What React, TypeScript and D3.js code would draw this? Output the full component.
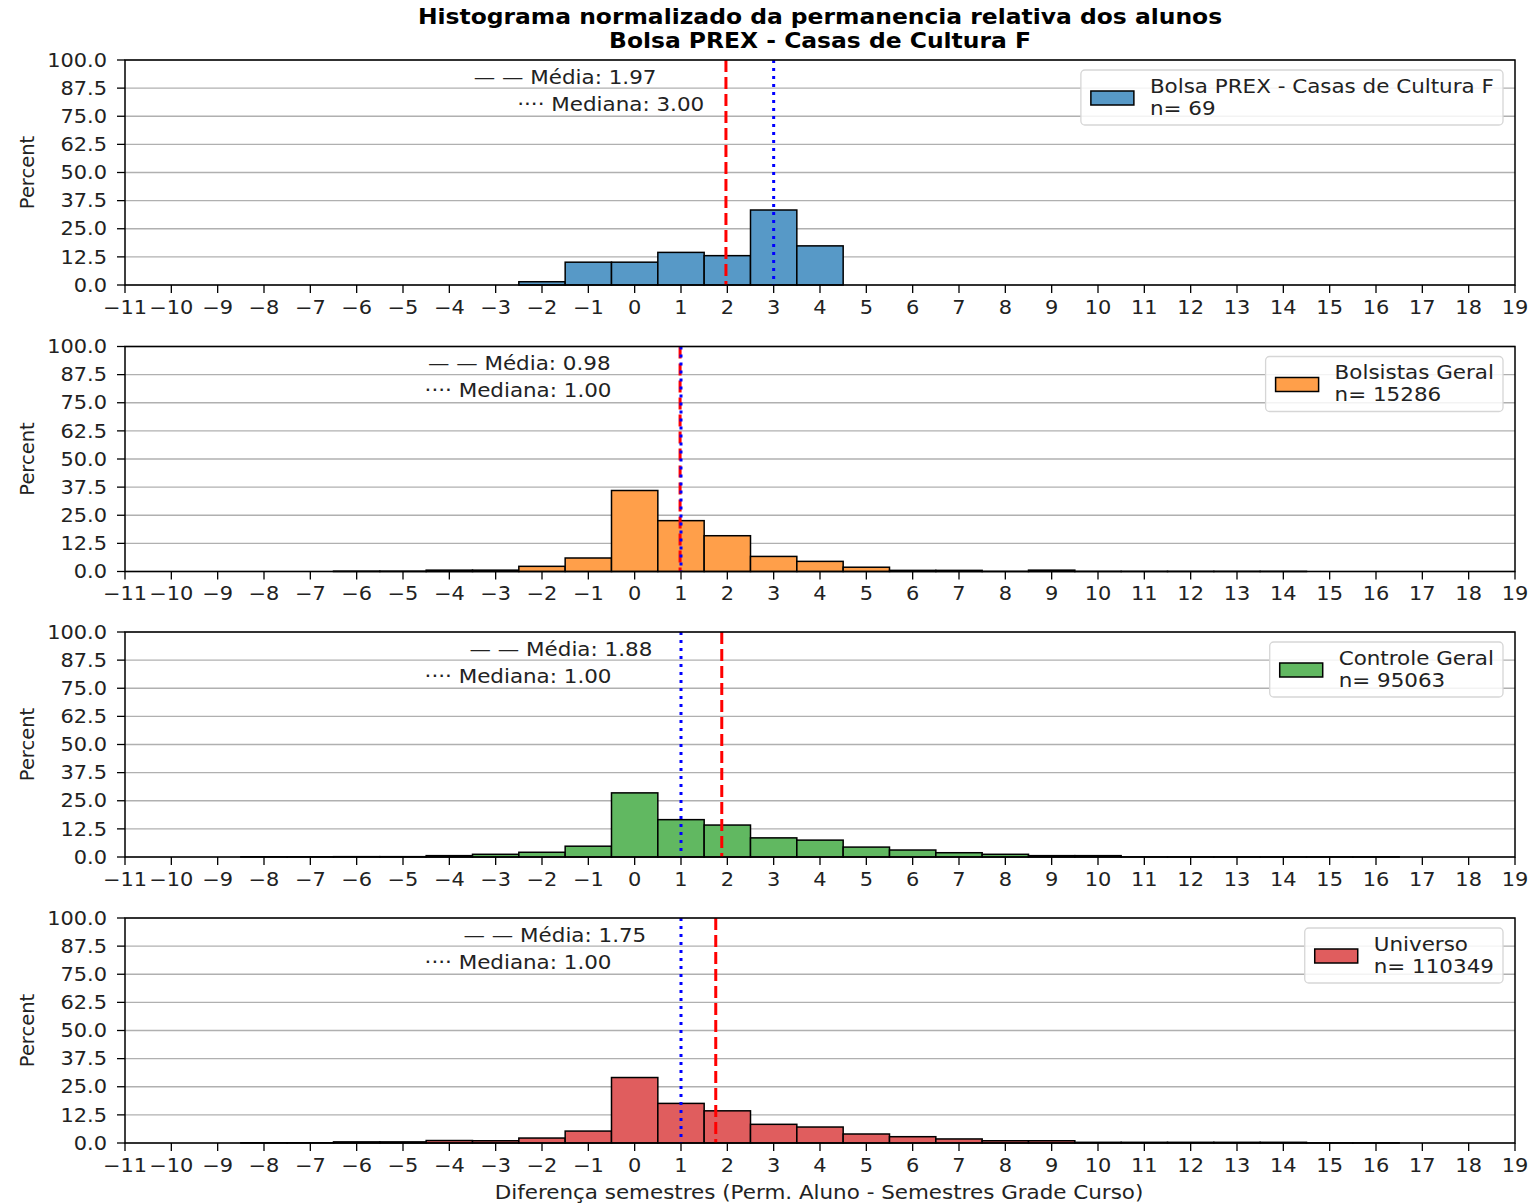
import React from "react";
import * as d3 from "d3";

const titleLines = ["Histograma normalizado da permanencia relativa dos alunos", "Bolsa PREX - Casas de Cultura F"];
const xLabel = "Diferença semestres (Perm. Aluno - Semestres Grade Curso)";
const yLabel = "Percent";
const yTicks = [0, 12.5, 25, 37.5, 50, 62.5, 75, 87.5, 100];
const xTicks = d3.range(-11, 20);

const seriesNames = ["Bolsa PREX - Casas de Cultura F", "Bolsistas Geral", "Controle Geral", "Universo"];
const seriesN = [69, 15286, 95063, 110349];
const seriesColors = ["#5799c7", "#ff9f4a", "#61b861", "#e05d5e"];
const means = [1.97, 0.98, 1.88, 1.75];
const medians = [3.0, 1.0, 1.0, 1.0];

const prexBins = [-2, -1, 0, 1, 2, 3, 4];
const prexPct = [1.45, 10.14, 10.14, 14.49, 13.04, 33.33, 17.39];

const bolsBins = [-6, -5, -4, -3, -2, -1, 0, 1, 2, 3, 4, 5, 6, 7, 8, 9, 10, 11, 12, 13, 14];
const bolsPct = [0.15, 0.15, 0.6, 0.6, 2.3, 6.0, 36.0, 22.6, 15.9, 6.7, 4.5, 1.9, 0.5, 0.5, 0.05, 0.6, 0.05, 0.05, 0.05, 0.05, 0.05];

const ctrlBins = [-8, -7, -6, -5, -4, -3, -2, -1, 0, 1, 2, 3, 4, 5, 6, 7, 8, 9, 10, 11, 12, 13, 14, 15, 16];
const ctrlPct = [0.1, 0.1, 0.15, 0.15, 0.6, 1.2, 2.1, 4.8, 28.5, 16.6, 14.2, 8.5, 7.5, 4.4, 3.1, 1.9, 1.2, 0.6, 0.6, 0.05, 0.05, 0.05, 0.05, 0.05, 0.05];

const univBins = [-8, -7, -6, -5, -4, -3, -2, -1, 0, 1, 2, 3, 4, 5, 6, 7, 8, 9, 10, 11, 12, 13, 14, 15, 16];
const univPct = [0.1, 0.1, 0.5, 0.5, 1.1, 1.0, 2.2, 5.3, 29.1, 17.6, 14.3, 8.3, 7.1, 4.0, 2.8, 1.8, 1.0, 1.0, 0.3, 0.3, 0.3, 0.3, 0.3, 0.05, 0.05];

const allBins = [prexBins, bolsBins, ctrlBins, univBins];
const allPct = [prexPct, bolsPct, ctrlPct, univPct];

const W = 1532;
const H = 1203;
const left = 125;
const right = 1515;
const panelTops = [60, 346.5, 632, 918];
const panelH = 225;
const FONT = "DejaVu Sans, Verdana, sans-serif";
const fs = 19.5;
const tfs = 19;
const SX = 1.1;

let measureCtx: CanvasRenderingContext2D | null = null;
function textWidth(t: string, size: number) {
  if (!measureCtx) {
    const c = document.createElement("canvas");
    measureCtx = c.getContext("2d");
  }
  if (!measureCtx) return t.length * size * 0.6;
  measureCtx.font = `${size}px "DejaVu Sans"`;
  return measureCtx.measureText(t).width;
}

function T({
  x,
  y,
  anchor = "start",
  size = fs,
  weight = "normal",
  fill = "#222",
  children,
}: {
  x: number;
  y: number;
  anchor?: string;
  size?: number;
  weight?: string;
  fill?: string;
  children: React.ReactNode;
}) {
  return (
    <text
      transform={`translate(${x},${y}) scale(${SX},1)`}
      dy="0.35em"
      textAnchor={anchor}
      fontSize={size}
      fontWeight={weight}
      fontFamily={FONT}
      fill={fill}
    >
      {children}
    </text>
  );
}

function Panel({ idx }: { idx: number }) {
  const top = panelTops[idx];
  const bottom = top + panelH;
  const x = d3.scaleLinear().domain([-11, 19]).range([left, right]);
  const y = d3.scaleLinear().domain([0, 100]).range([bottom, top]);
  const bins = allBins[idx];
  const pct = allPct[idx];
  const color = seriesColors[idx];
  const mean = means[idx];
  const med = medians[idx];
  const l1 = seriesNames[idx];
  const l2 = `n= ${seriesN[idx]}`;
  const legW = Math.max(textWidth(l1, fs), textWidth(l2, fs)) * SX + 78;
  const legR = right - 12;
  const legL = legR - legW;
  const legT = top + 10;
  const legH = 55;
  const fmt = (v: number) => (v < 0 ? "\u2212" + Math.abs(v) : String(v));
  return (
    <g>
      {yTicks.map((t) => (
        <line key={"g" + t} x1={left} x2={right} y1={y(t)} y2={y(t)} stroke="#b0b0b0" strokeWidth={1.3} />
      ))}
      {bins.map((b, i) => (
        <rect
          key={"b" + b}
          x={x(b - 0.5)}
          y={y(pct[i])}
          width={x(b + 0.5) - x(b - 0.5)}
          height={y(0) - y(pct[i])}
          fill={color}
          stroke="#000"
          strokeWidth={1.5}
        />
      ))}
      <line x1={x(mean)} x2={x(mean)} y1={top} y2={bottom} stroke="#ff0000" strokeWidth={3} strokeDasharray="12,5" />
      <line x1={x(med)} x2={x(med)} y1={top} y2={bottom} stroke="#0000ff" strokeWidth={3} strokeDasharray="3,5" />
      <rect x={left} y={top} width={right - left} height={panelH} fill="none" stroke="#000" strokeWidth={1.5} />
      {yTicks.map((t) => (
        <g key={"yt" + t}>
          <line x1={left - 8} x2={left} y1={y(t)} y2={y(t)} stroke="#000" strokeWidth={1.3} />
          <T x={left - 18} y={y(t)} anchor="end" size={tfs}>
            {t.toFixed(1)}
          </T>
        </g>
      ))}
      {xTicks.map((t) => (
        <g key={"xt" + t}>
          <line x1={x(t)} x2={x(t)} y1={bottom} y2={bottom + 8} stroke="#000" strokeWidth={1.3} />
          <T x={x(t)} y={bottom + 22} anchor="middle" size={tfs}>
            {fmt(t)}
          </T>
        </g>
      ))}
      <text
        transform={`translate(27,${(top + bottom) / 2}) rotate(-90)`}
        textAnchor="middle"
        dy="0.35em"
        fontSize={fs}
        fontFamily={FONT}
        fill="#222"
      >
        {yLabel}
      </text>
      <T x={x(mean - 1.5)} y={top + 17} anchor="end">
        {`\u2014 \u2014 Média: ${mean.toFixed(2)}`}
      </T>
      <T x={x(med - 1.5)} y={top + 44} anchor="end">
        {`\u00b7\u00b7\u00b7\u00b7 Mediana: ${med.toFixed(2)}`}
      </T>
      <rect x={legL} y={legT} width={legW} height={legH} rx={4} fill="#fff" fillOpacity={0.85} stroke="#d6d6d6" strokeWidth={1.3} />
      <rect x={legL + 10} y={legT + 21} width={43} height={14} fill={color} stroke="#000" strokeWidth={1.5} />
      <T x={legL + 69} y={legT + 16}>{l1}</T>
      <T x={legL + 69} y={legT + 38}>{l2}</T>
    </g>
  );
}

export default function App() {
  return (
    <svg
      width={W}
      height={H}
      viewBox={`0 0 ${W} ${H}`}
      style={{ display: "block", background: "#fff", position: "absolute", left: 0, top: 0 }}
    >
      <rect x={0} y={0} width={W} height={H} fill="#fff" />
      {titleLines.map((t, i) => (
        <T key={t} x={820} y={17 + i * 24} anchor="middle" size={21.3} weight="bold" fill="#000">
          {t}
        </T>
      ))}
      {[0, 1, 2, 3].map((i) => (
        <Panel key={i} idx={i} />
      ))}
      <T x={819} y={1192} anchor="middle">
        {xLabel}
      </T>
    </svg>
  );
}
